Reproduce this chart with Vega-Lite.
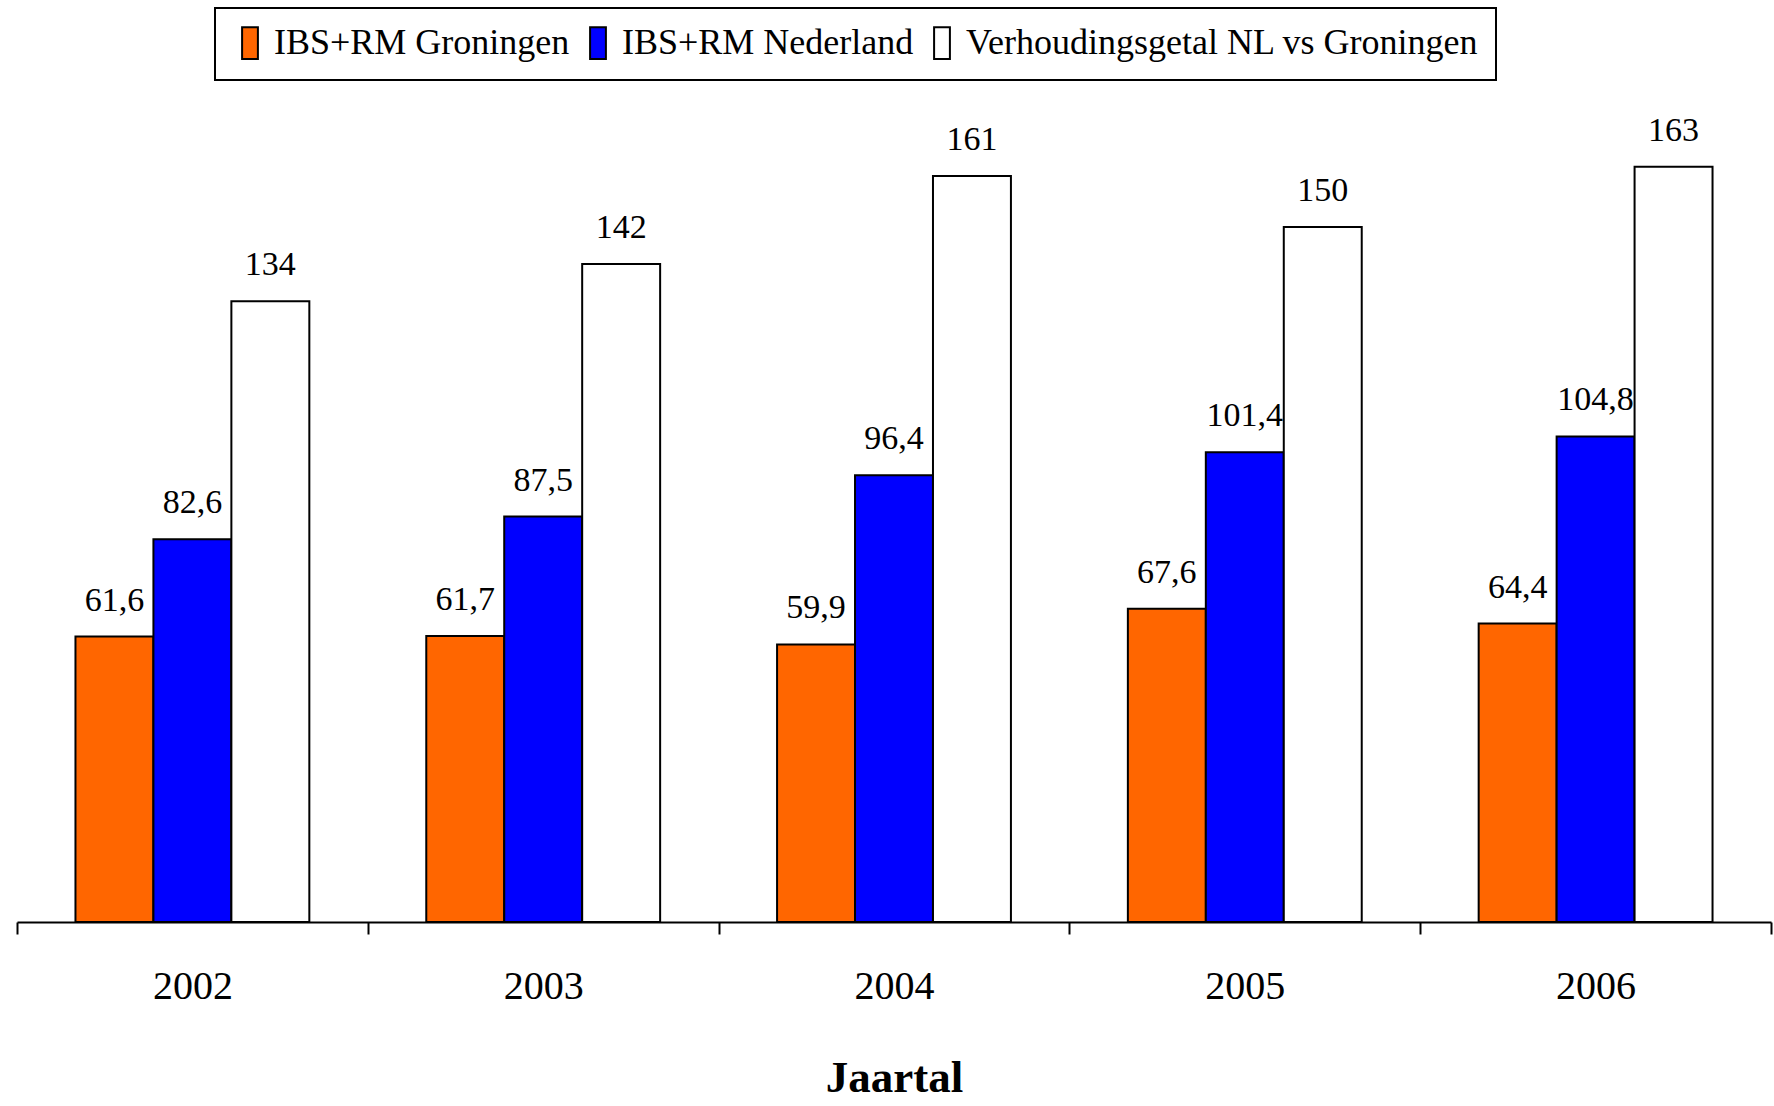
{
  "$schema": "https://vega.github.io/schema/vega-lite/v6.json",
  "width": 1754,
  "height": 834,
  "autosize": {"type": "none"},
  "padding": {"left": 17, "top": 88, "right": 3, "bottom": 184},
  "background": "white",
  "config": {
    "view": {"stroke": null},
    "font": "Liberation Serif",
    "locale": {"number": {"decimal": ",", "thousands": ".", "grouping": [3], "currency": ["€", ""]}}
  },
  "data": {
    "values": [
      {"year": "2002", "series": "IBS+RM Groningen", "value": 61.6},
      {"year": "2002", "series": "IBS+RM Nederland", "value": 82.6},
      {"year": "2002", "series": "Verhoudingsgetal NL vs Groningen", "value": 134},
      {"year": "2003", "series": "IBS+RM Groningen", "value": 61.7},
      {"year": "2003", "series": "IBS+RM Nederland", "value": 87.5},
      {"year": "2003", "series": "Verhoudingsgetal NL vs Groningen", "value": 142},
      {"year": "2004", "series": "IBS+RM Groningen", "value": 59.9},
      {"year": "2004", "series": "IBS+RM Nederland", "value": 96.4},
      {"year": "2004", "series": "Verhoudingsgetal NL vs Groningen", "value": 161},
      {"year": "2005", "series": "IBS+RM Groningen", "value": 67.6},
      {"year": "2005", "series": "IBS+RM Nederland", "value": 101.4},
      {"year": "2005", "series": "Verhoudingsgetal NL vs Groningen", "value": 150},
      {"year": "2006", "series": "IBS+RM Groningen", "value": 64.4},
      {"year": "2006", "series": "IBS+RM Nederland", "value": 104.8},
      {"year": "2006", "series": "Verhoudingsgetal NL vs Groningen", "value": 163}
    ]
  },
  "encoding": {
    "x": {
      "field": "year",
      "type": "nominal",
      "scale": {"paddingInner": 0, "paddingOuter": 0},
      "axis": {
        "title": "Jaartal",
        "titleFont": "Liberation Serif",
        "titleFontWeight": "bold",
        "titleFontSize": 45,
        "titleColor": "black",
        "titlePadding": 49,
        "labelAngle": 0,
        "labelFont": "Liberation Serif",
        "labelFontSize": 40,
        "labelColor": "black",
        "labelPadding": 32,
        "tickBand": "extent",
        "tickSize": 12,
        "tickWidth": 2,
        "tickColor": "black",
        "domainColor": "black",
        "domainWidth": 2
      }
    },
    "xOffset": {
      "field": "series",
      "type": "nominal",
      "sort": ["IBS+RM Groningen", "IBS+RM Nederland", "Verhoudingsgetal NL vs Groningen"],
      "scale": {"paddingInner": 0, "paddingOuter": 0.75}
    },
    "y": {
      "field": "value",
      "type": "quantitative",
      "scale": {"domain": [0, 180], "nice": false},
      "axis": null
    }
  },
  "layer": [
    {
      "mark": {"type": "bar", "stroke": "black", "strokeWidth": 2},
      "encoding": {
        "color": {
          "field": "series",
          "type": "nominal",
          "sort": ["IBS+RM Groningen", "IBS+RM Nederland", "Verhoudingsgetal NL vs Groningen"],
          "scale": {
            "domain": ["IBS+RM Groningen", "IBS+RM Nederland", "Verhoudingsgetal NL vs Groningen"],
            "range": ["#FF6600", "#0000FF", "#FFFFFF"]
          },
          "legend": {
            "title": null,
            "orient": "none",
            "direction": "horizontal",
            "legendX": 198,
            "legendY": -80,
            "strokeColor": "black",
            "fillColor": "white",
            "padding": 17,
            "labelFont": "Liberation Serif",
            "labelFontSize": 36,
            "labelColor": "black",
            "labelLimit": 1000,
            "labelOffset": 6,
            "columnPadding": 10,
            "symbolType": "M-0.5,-1H0.5V1H-0.5Z",
            "symbolSize": 1000,
            "symbolStrokeColor": "black",
            "symbolStrokeWidth": 2,
            "encode": {"legend": {"update": {"strokeWidth": {"value": 2}}}}
          }
        }
      }
    },
    {
      "mark": {"type": "text", "baseline": "alphabetic", "dy": -26, "fontSize": 34, "font": "Liberation Serif", "color": "black"},
      "encoding": {
        "text": {"field": "value", "type": "quantitative", "format": ".1~f"}
      }
    }
  ]
}
